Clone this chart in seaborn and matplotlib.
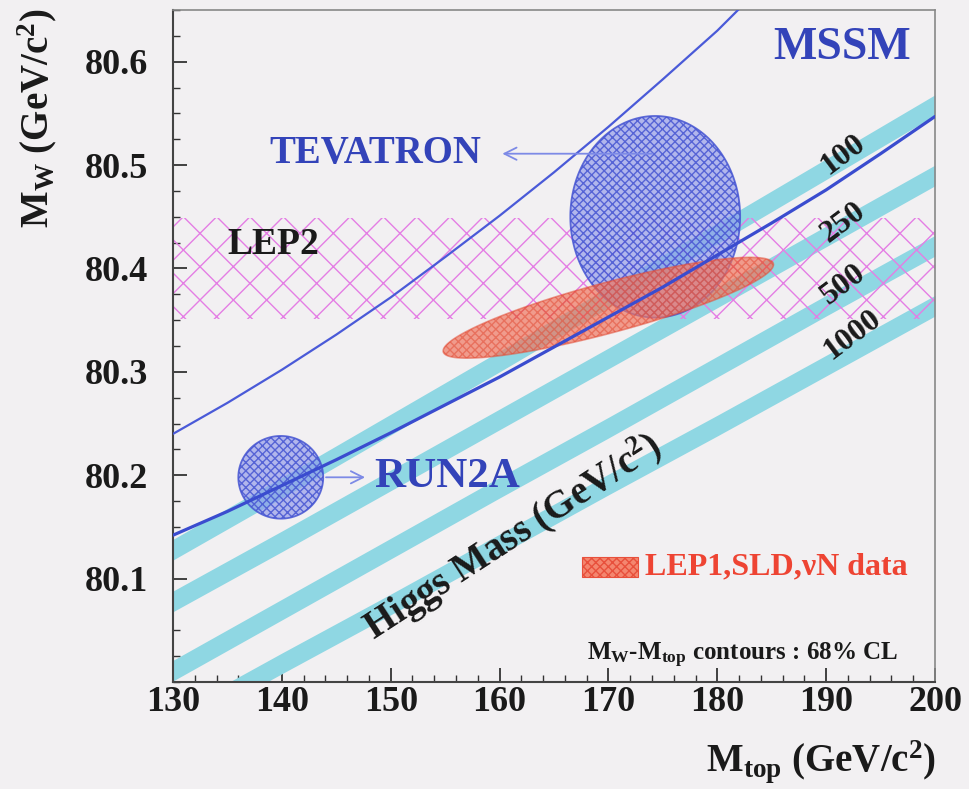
import numpy as np
import pandas as pd
import matplotlib
matplotlib.use("Agg")
import matplotlib.pyplot as plt
import seaborn as sns
from matplotlib.patches import Polygon, Rectangle
from matplotlib.ticker import MultipleLocator

# ---------------- data ----------------
mtop_grid = [130, 140, 150, 160, 170, 180, 190, 200]
# SM Higgs-mass bands (centre of each band, M_W in GeV)
band_100 = [80.128, 80.188, 80.249, 80.310, 80.372, 80.434, 80.496, 80.558]
band_250 = [80.078, 80.136, 80.195, 80.254, 80.313, 80.372, 80.431, 80.490]
band_500 = [80.011, 80.070, 80.129, 80.188, 80.246, 80.305, 80.364, 80.422]
band_1000 = [79.960, 80.018, 80.075, 80.133, 80.191, 80.248, 80.306, 80.364]
band_halfwidth = 0.010
higgs_labels = ["100", "250", "500", "1000"]

# MSSM boundary curves
lower_mtop = [130, 135, 140, 145, 150, 155, 160, 165, 170, 175, 180, 185, 190, 195, 200]
lower_mw = [80.142, 80.165, 80.190, 80.215, 80.241, 80.268, 80.295, 80.324,
            80.353, 80.382, 80.413, 80.444, 80.476, 80.511, 80.547]
upper_mtop = [130, 135, 140, 145, 150, 155, 160, 165, 170, 175, 180, 182]
upper_mw = [80.240, 80.270, 80.302, 80.336, 80.372, 80.411, 80.451, 80.493,
            80.537, 80.583, 80.630, 80.651]

# LEP2 M_W band
lep2_mw = 80.400
lep2_err = 0.049

# 68% CL contours: centre (mtop, mW) and half-axes
tev_center = (174.3, 80.450)
tev_half = (7.8, 0.0975)
run2a_center = (139.9, 80.198)
run2a_half = (3.9, 0.040)
lep1_center = (169.99, 80.362)
lep1_major = (15.16, 0.0427)
lep1_minor = (-0.60, 0.0235)

# ---------------- style ----------------
sns.set_theme(style="ticks")
plt.rcParams["font.family"] = ["Liberation Serif", "DejaVu Serif"]
plt.rcParams["font.weight"] = "bold"
plt.rcParams["mathtext.fontset"] = "custom"
plt.rcParams["mathtext.rm"] = "Liberation Serif:bold"
plt.rcParams["mathtext.it"] = "Liberation Serif:bold"
plt.rcParams["mathtext.bf"] = "Liberation Serif:bold"
plt.rcParams["hatch.linewidth"] = 1.0

BG = "#f2f0f2"
CYAN = "#8fd7e3"
BLUE_LINE = "#3a4ccf"
BLUE_TEXT = "#3343b9"
MAGENTA = "#e47ee4"

fig = plt.figure(figsize=(9.69, 7.89), dpi=100, facecolor=BG)
ax = fig.add_axes([173 / 969, 1 - 682 / 789, (935 - 173) / 969, (682 - 10) / 789])
ax.set_facecolor(BG)

# Higgs bands
for vals in (band_100, band_250, band_500, band_1000):
    v = np.array(vals)
    ax.fill_between(mtop_grid, v - band_halfwidth, v + band_halfwidth,
                    color=CYAN, lw=0, zorder=1)

# LEP2 hatched band
ax.fill_between([130, 200], [lep2_mw - lep2_err] * 2, [lep2_mw + lep2_err] * 2,
                facecolor="none", edgecolor=MAGENTA, hatch="x", lw=0, zorder=2)


def ellipse_pts(c, u, v, n=240):
    t = np.linspace(0, 2 * np.pi, n)
    x = c[0] + u[0] * np.cos(t) + v[0] * np.sin(t)
    y = c[1] + u[1] * np.cos(t) + v[1] * np.sin(t)
    return np.column_stack([x, y])


# TEVATRON contour
tev = ellipse_pts(tev_center, (tev_half[0], 0), (0, tev_half[1]))
ax.add_patch(Polygon(tev, closed=True, facecolor="#8f98ea", alpha=0.65, lw=0, zorder=3))
ax.add_patch(Polygon(tev, closed=True, facecolor="none", edgecolor="#4655d2",
                     hatch="xxxx", lw=1.3, alpha=0.85, zorder=3.1))

# RUN2A contour
r2 = ellipse_pts(run2a_center, (run2a_half[0], 0), (0, run2a_half[1]))
ax.add_patch(Polygon(r2, closed=True, facecolor="#8f98ea", alpha=0.65, lw=0, zorder=3))
ax.add_patch(Polygon(r2, closed=True, facecolor="none", edgecolor="#4655d2",
                     hatch="xxxx", lw=1.3, alpha=0.85, zorder=3.1))

# LEP1,SLD,nuN contour
l1 = ellipse_pts(lep1_center, lep1_major, lep1_minor)
ax.add_patch(Polygon(l1, closed=True, facecolor="#f0735c", alpha=0.68, lw=0, zorder=4))
ax.add_patch(Polygon(l1, closed=True, facecolor="none", edgecolor="#e24e38",
                     hatch="xxxx", lw=1.2, alpha=0.55, zorder=4.1))

# MSSM curves
sns.lineplot(x=upper_mtop, y=upper_mw, ax=ax, color="#4a5ad8", lw=1.6, zorder=5)
sns.lineplot(x=lower_mtop, y=lower_mw, ax=ax, color=BLUE_LINE, lw=2.3, zorder=5)

# Arrows and labels
ax.annotate("", xy=(160.0, 80.511), xytext=(tev_center[0], 80.511),
            arrowprops=dict(arrowstyle="->", color="#7d8ae6", lw=1.3,
                            mutation_scale=22), zorder=6)
ax.text(148.6, 80.511, "TEVATRON", color=BLUE_TEXT, fontsize=28,
        fontweight="bold", ha="center", va="center", zorder=7)

ax.annotate("", xy=(147.9, run2a_center[1]),
            xytext=(run2a_center[0] + run2a_half[0], run2a_center[1]),
            arrowprops=dict(arrowstyle="->", color="#7d8ae6", lw=1.3,
                            mutation_scale=22), zorder=6)
ax.text(148.5, run2a_center[1], "RUN2A", color=BLUE_TEXT, fontsize=31,
        fontweight="bold", ha="left", va="center", zorder=7)

ax.text(191.5, 80.6135, "MSSM", color=BLUE_TEXT, fontsize=33,
        fontweight="bold", ha="center", va="center", zorder=7)
ax.text(135.0, 80.423, "LEP2", color="#1a1a1a", fontsize=27,
        fontweight="bold", ha="left", va="center", zorder=7)

label_pos = [(191.6, 80.510), (191.6, 80.444), (191.6, 80.384), (192.4, 80.336)]
for lab, (lx, ly) in zip(higgs_labels, label_pos):
    ax.text(lx, ly, lab, fontsize=23, fontweight="bold", color="#1a1a1a",
            rotation=37, rotation_mode="anchor", ha="center", va="center", zorder=7)

ax.text(161.2, 80.140, r"Higgs Mass (GeV/c$^{2}$)", fontsize=28, fontweight="bold",
        color="#1a1a1a", rotation=33, rotation_mode="anchor",
        ha="center", va="center", zorder=7)

# legend-like box for LEP1,SLD,nuN
ax.add_patch(Rectangle((0.537, 0.156), 0.073, 0.030, transform=ax.transAxes,
                       facecolor="#f4866f", edgecolor="#e8503c", hatch="xxxx",
                       lw=0.8, zorder=7))
ax.text(0.620, 0.171, "LEP1,SLD,\u03bdN data", transform=ax.transAxes,
        color="#ee4433", fontsize=23, fontweight="bold", ha="left", va="center", zorder=7)
ax.text(0.543, 0.040, r"M$_{W}$-M$_{top}$ contours : 68% CL", transform=ax.transAxes,
        color="#1a1a1a", fontsize=18, fontweight="bold", ha="left", va="center", zorder=7)

# axes
ax.set_xlim(130, 200)
ax.set_ylim(80.0, 80.65)
ax.set_xticks(range(130, 201, 10))
ax.set_yticks([80.1, 80.2, 80.3, 80.4, 80.5, 80.6])
ax.set_yticklabels(["80.1", "80.2", "80.3", "80.4", "80.5", "80.6"])
ax.xaxis.set_minor_locator(MultipleLocator(2))
ax.yaxis.set_minor_locator(MultipleLocator(0.025))
ax.tick_params(axis="both", which="major", direction="in", length=10, width=1.3,
               colors="#333333", labelcolor="#1a1a1a", labelsize=26)
ax.tick_params(axis="both", which="minor", direction="in", length=5, width=1.0,
               colors="#333333")
ax.tick_params(axis="x", which="major", pad=3)
ax.tick_params(axis="y", which="major", pad=18)
for lab in ax.get_xticklabels() + ax.get_yticklabels():
    lab.set_fontweight("bold")
for side in ("left", "bottom"):
    ax.spines[side].set_color("#444444")
    ax.spines[side].set_linewidth(1.5)
for side in ("top", "right"):
    ax.spines[side].set_visible(True)
    ax.spines[side].set_color("#888888")
    ax.spines[side].set_linewidth(1.2)
ax.set_xlabel("")
ax.set_ylabel("")

fig.text(936 / 969, 1 - 762 / 789, r"M$_{top}$ (GeV/c$^{2}$)", fontsize=28,
         fontweight="bold", ha="right", va="center", color="#1a1a1a")
fig.text(37 / 969, 1 - 118 / 789, r"M$_{W}$ (GeV/c$^{2}$)", fontsize=28,
         fontweight="bold", ha="center", va="center", rotation=90, color="#1a1a1a")

fig.savefig("out.png", dpi=100, facecolor=BG)
